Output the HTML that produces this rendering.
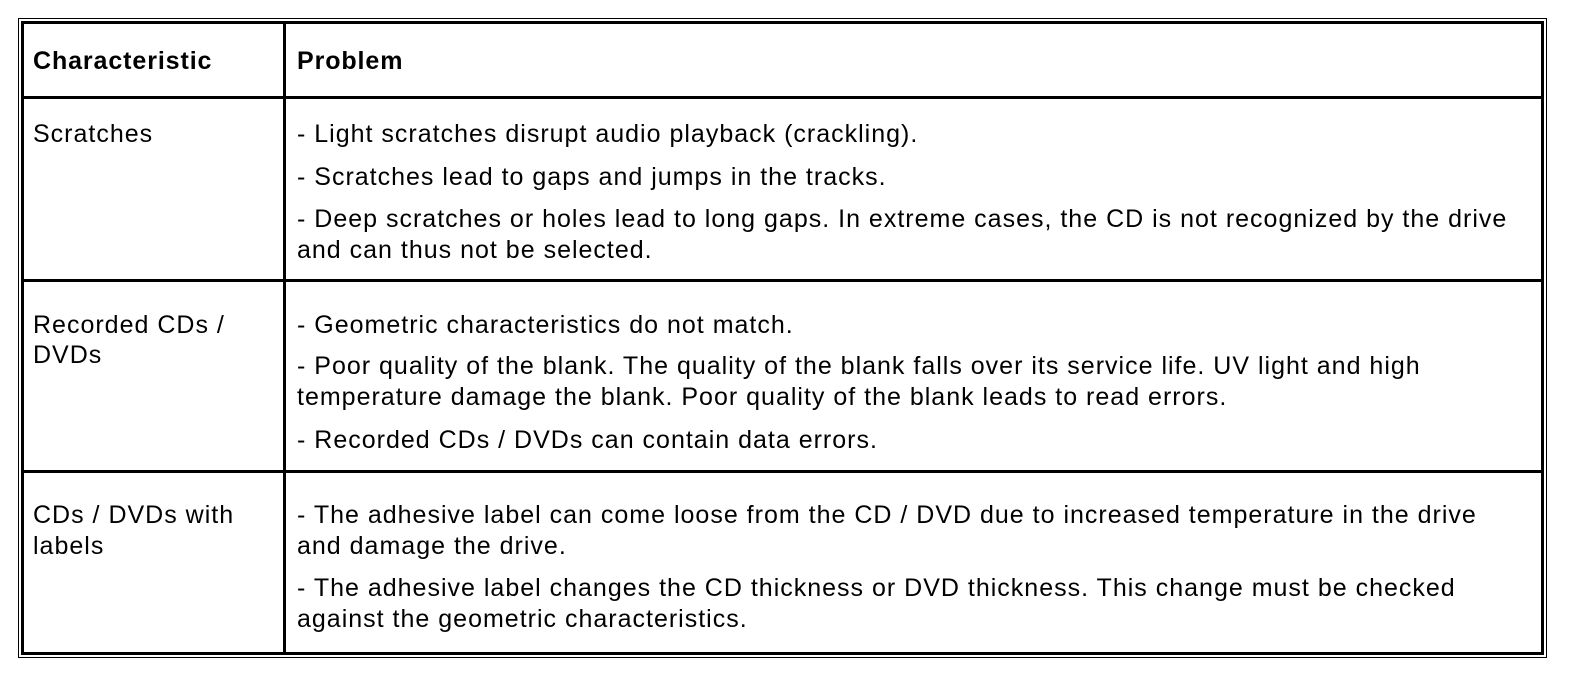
<!DOCTYPE html>
<html><head><style>
body{margin:0;width:1584px;height:692px;background:#fff;position:relative;overflow:hidden;font-family:"Liberation Sans",Arial,sans-serif;color:#000}
.l{position:absolute;background:#000}
.t{position:absolute;font-size:25px;letter-spacing:1.0px;white-space:nowrap;line-height:24px}
b{font-weight:bold;letter-spacing:0.9px}
</style></head><body>
<div class="l" style="left:18px;top:18px;width:1529px;height:1px"></div>
<div class="l" style="left:18px;top:18px;width:1px;height:640px"></div>
<div class="l" style="left:1546px;top:18px;width:1px;height:640px"></div>
<div class="l" style="left:18px;top:657px;width:1529px;height:1px"></div>
<div class="l" style="left:21px;top:21px;width:1523px;height:3px"></div>
<div class="l" style="left:21px;top:21px;width:3px;height:634px"></div>
<div class="l" style="left:1541px;top:21px;width:3px;height:634px"></div>
<div class="l" style="left:21px;top:652px;width:1523px;height:3px"></div>
<div class="l" style="left:283px;top:21px;width:3px;height:634px"></div>
<div class="l" style="left:21px;top:96px;width:1523px;height:3px"></div>
<div class="l" style="left:21px;top:279px;width:1523px;height:3px"></div>
<div class="l" style="left:21px;top:470px;width:1523px;height:3px"></div>

<div class="t" style="left:33px;top:49px"><b>Characteristic</b></div>
<div class="t" style="left:297px;top:49px"><b>Problem</b></div>

<div class="t" style="left:33px;top:122px">Scratches</div>
<div class="t" style="left:297px;top:122px">- Light scratches disrupt audio playback (crackling).</div>
<div class="t" style="left:297px;top:165px">- Scratches lead to gaps and jumps in the tracks.</div>
<div class="t" style="left:297px;top:207px">- Deep scratches or holes lead to long gaps. In extreme cases, the CD is not recognized by the drive</div>
<div class="t" style="left:297px;top:238px">and can thus not be selected.</div>

<div class="t" style="left:33px;top:313px">Recorded CDs /</div>
<div class="t" style="left:33px;top:343px">DVDs</div>
<div class="t" style="left:297px;top:313px">- Geometric characteristics do not match.</div>
<div class="t" style="left:297px;top:354px">- Poor quality of the blank. The quality of the blank falls over its service life. UV light and high</div>
<div class="t" style="left:297px;top:385px">temperature damage the blank. Poor quality of the blank leads to read errors.</div>
<div class="t" style="left:297px;top:428px">- Recorded CDs / DVDs can contain data errors.</div>

<div class="t" style="left:33px;top:503px">CDs / DVDs with</div>
<div class="t" style="left:33px;top:534px">labels</div>
<div class="t" style="left:297px;top:503px">- The adhesive label can come loose from the CD / DVD due to increased temperature in the drive</div>
<div class="t" style="left:297px;top:534px">and damage the drive.</div>
<div class="t" style="left:297px;top:576px">- The adhesive label changes the CD thickness or DVD thickness. This change must be checked</div>
<div class="t" style="left:297px;top:607px">against the geometric characteristics.</div>
</body></html>
